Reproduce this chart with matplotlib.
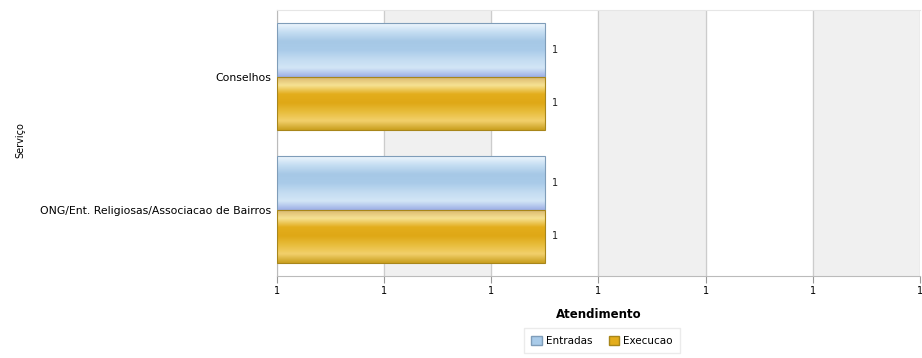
import numpy as np
import matplotlib
matplotlib.use("Agg")
import matplotlib.pyplot as plt
from matplotlib.colors import LinearSegmentedColormap
from matplotlib.patches import Patch

categorias = ["Conselhos", "ONG/Ent. Religiosas/Associacao de Bairros"]
entradas = [1, 1]
execucao = [1, 1]
xticks = [0, 0.4, 0.8, 1.2, 1.6, 2.0, 2.4]
xtick_labels = ["1", "1", "1", "1", "1", "1", "1"]

cmap_azul = LinearSegmentedColormap.from_list(
    "azul", ["#eef6fd", "#c4ddf2", "#a6c8e6", "#a9cbe9", "#c2dbf1", "#d3e6f6", "#9eb0e6"])
cmap_ouro = LinearSegmentedColormap.from_list(
    "ouro", ["#d8b46a", "#f6e294", "#e3ad1c", "#dfa816", "#e8bd3c", "#f2d06c", "#caa020"])

fig = plt.figure(figsize=(9.22, 3.58), dpi=100)
ax = fig.add_axes([0.3004, 0.229, 0.6974, 0.743])

# bandes alternées
for i in range(len(xticks) - 1):
    if i % 2 == 1:
        ax.axvspan(xticks[i], xticks[i + 1], color="#f0f0f0", zorder=0)
for x in xticks:
    ax.axvline(x, color="#cccccc", lw=0.9, zorder=1)

y = np.arange(len(categorias))
h = 0.4
b1 = ax.barh(y - h / 2, entradas, height=h, color="#b4d2ec", edgecolor="#7f9db9", lw=0.8, zorder=3)
b2 = ax.barh(y + h / 2, execucao, height=h, color="#e3ad1c", edgecolor="#a8861a", lw=0.8, zorder=3)

grad = np.linspace(0, 1, 100).reshape(-1, 1)
for bars, cm in [(b1, cmap_azul), (b2, cmap_ouro)]:
    for p in bars:
        x0, y0 = p.get_x(), p.get_y()
        w, hh = p.get_width(), p.get_height()
        im = ax.imshow(grad, cmap=cm, aspect="auto", extent=[x0, x0 + w, y0 + hh, y0],
                       zorder=3.5, interpolation="bicubic")
        im.set_clip_path(p)
        p.set_facecolor("none")
        p.set_zorder(4)

for bars, vals in [(b1, entradas), (b2, execucao)]:
    for p, v in zip(bars, vals):
        ax.text(p.get_width() + 0.025, p.get_y() + p.get_height() / 2, str(v),
                va="center", ha="left", fontsize=7, color="#222222")

ax.set_xlim(xticks[0], xticks[-1])
ax.set_ylim(1.5, -0.5)
ax.set_xticks(xticks)
ax.set_xticklabels(xtick_labels, fontsize=7)
ax.set_yticks(y)
ax.set_yticklabels(categorias, fontsize=7.8)
ax.tick_params(axis="x", length=5, color="#999999", pad=2)
ax.tick_params(axis="y", length=0, pad=4)
ax.spines["right"].set_visible(False)
ax.spines["top"].set_color("#e6e6e6")
for s in ["left", "bottom"]:
    ax.spines[s].set_color("#bbbbbb")

ax.set_xlabel("Atendimento", fontsize=8.5, fontweight="bold", labelpad=9)
fig.text(0.022, 0.61, "Serviço", rotation=90, fontsize=7, va="center", ha="center")

handles = [Patch(facecolor="#a9cbe9", edgecolor="#7f9db9"),
           Patch(facecolor="#e3ad1c", edgecolor="#a8861a")]
fig.legend(handles, ["Entradas", "Execucao"], loc="center", bbox_to_anchor=(0.653, 0.048),
           ncol=2, fontsize=7.5, frameon=True, fancybox=False, edgecolor="#e6e6e6",
           handlelength=1.0, handleheight=1.0, handletextpad=0.4, columnspacing=1.6,
           borderpad=0.7)

fig.savefig("out.png", dpi=100)
